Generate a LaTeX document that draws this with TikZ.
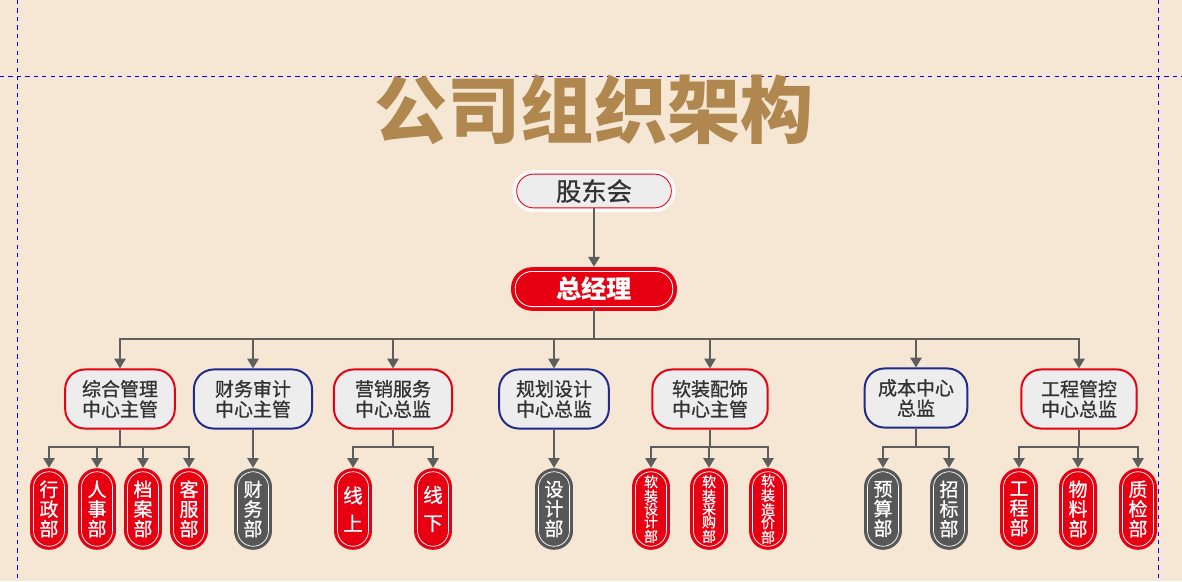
\documentclass[tikz,border=0pt]{standalone}
\usepackage{fontspec}
\usepackage{tikz}
\usetikzlibrary{arrows.meta}
\newfontfamily\cjk{Noto Sans CJK SC}[FakeBold=0.9]
\newfontfamily\cjktitel{Noto Sans CJK SC}
\definecolor{beige}{HTML}{F6E7D5}
\definecolor{gold}{HTML}{B0874F}
\definecolor{hong}{HTML}{E60012}
\definecolor{lan}{HTML}{1F2A8C}
\definecolor{hui}{HTML}{575757}
\definecolor{kasten}{HTML}{EDEDED}
\definecolor{schrift}{HTML}{333333}
\definecolor{liniefarbe}{HTML}{5E5E5E}
\tikzset{
  pfeil/.style={-{Triangle[length=7pt,width=8pt]},liniefarbe,line width=1.4pt},
  strich/.style={liniefarbe,line width=1.4pt},
  hilfs/.style={blue,line width=0.7pt,dash pattern=on 3pt off 3pt},
  titel/.style={gold,font=\cjktitel\bfseries\fontsize{52}{56}\selectfont},
  gdh/.style={fill=kasten,draw=hong,line width=0.6pt,rounded corners=12pt,minimum width=110pt,minimum height=24pt,
    preaction={draw=white!70!kasten,line width=6pt},text=schrift,font=\cjk\fontsize{18}{20}\selectfont},
  chef/.style={fill=hong,draw=white,line width=0.6pt,rounded corners=12pt,minimum width=112pt,minimum height=25pt,
    preaction={draw=hong,line width=6pt},text=white,font=\cjktitel\bfseries\fontsize{18}{20}\selectfont},
  zentrum/.style={fill=kasten,draw=#1,line width=1.4pt,rounded corners=14pt,minimum width=78pt,minimum height=42pt,
    align=center,text=schrift,inner sep=2pt,font=\cjk\fontsize{13.5}{14.5}\selectfont},
  zentrum/.default=hong,
  abt/.style={fill=#1,draw=white,line width=0.5pt,rounded corners=11pt,minimum width=22pt,minimum height=53pt,
    inner sep=0pt,align=center,text=white,preaction={draw=#1,line width=5pt},font=\cjk\fontsize{13.5}{14}\selectfont},
  abt/.default=hong,
  klein/.style={font=\cjk\fontsize{10}{9.2}\selectfont},
  zwei/.style={font=\cjk\fontsize{14}{20}\selectfont},
}
\begin{document}
\begin{tikzpicture}[x=0.025cm,y=-0.025cm]
  \fill[beige] (0,0) rectangle (1182,581);
  \useasboundingbox (0,0) rectangle (1182,581);
  \draw[hilfs] (17,0) -- (17,581);
  \draw[hilfs] (1158,0) -- (1158,581);
  \draw[hilfs] (0,76) -- (1182,76);

  \node[titel] (titel) at (594,110) {公司组织架构};
  \node[gdh] (gdh) at (594,191) {股东会};
  \node[chef] (zjl) at (594,289) {总经理};
  \draw[pfeil,shorten >=3pt] (gdh) -- (zjl);

  \node[zentrum] (m1) at (120,399) {综合管理\\中心主管};
  \node[zentrum=lan,minimum width=84pt] (m2) at (253,399) {财务审计\\中心主管};
  \node[zentrum,minimum width=84pt] (m3) at (393,399) {营销服务\\中心总监};
  \node[zentrum=lan] (m4) at (554,399) {规划设计\\中心总监};
  \node[zentrum,minimum width=82pt] (m5) at (710,399) {软装配饰\\中心主管};
  \node[zentrum=lan,minimum width=73pt] (m6) at (916,398) {成本中心\\总监};
  \node[zentrum,minimum width=82pt] (m7) at (1079,399) {工程管控\\中心总监};

  \coordinate (bus) at (594,339);
  \draw[strich] (zjl) -- (bus);
  \foreach \m in {m1,m2,m3,m4,m5,m6,m7}
    \draw[pfeil] (bus) -| (\m);

  \node[abt] (d11) at (49,509) {行\\政\\部};
  \node[abt] (d12) at (97,509) {人\\事\\部};
  \node[abt] (d13) at (143,509) {档\\案\\部};
  \node[abt] (d14) at (189,509) {客\\服\\部};
  \node[abt=hui] (d21) at (253,509) {财\\务\\部};
  \node[abt,zwei] (d31) at (353,509) {线\\上};
  \node[abt,zwei] (d32) at (433,509) {线\\下};
  \node[abt=hui] (d41) at (554,509) {设\\计\\部};
  \node[abt,klein] (d51) at (651,509) {软\\装\\设\\计\\部};
  \node[abt,klein] (d52) at (709,509) {软\\装\\采\\购\\部};
  \node[abt,klein] (d53) at (768,509) {软\\装\\造\\价\\部};
  \node[abt=hui] (d61) at (883,509) {预\\算\\部};
  \node[abt=hui] (d62) at (949,509) {招\\标\\部};
  \node[abt] (d71) at (1019,509) {工\\程\\部};
  \node[abt] (d72) at (1078,509) {物\\料\\部};
  \node[abt] (d73) at (1138,509) {质\\检\\部};

  \coordinate (b1) at (120,447);
  \coordinate (b2) at (253,447);
  \coordinate (b3) at (393,447);
  \coordinate (b4) at (554,447);
  \coordinate (b5) at (710,447);
  \coordinate (b6) at (916,447);
  \coordinate (b7) at (1079,447);
  \foreach \m/\b in {m1/b1,m2/b2,m3/b3,m4/b4,m5/b5,m6/b6,m7/b7}
    \draw[strich] (\m) -- (\b);
  \foreach \b/\d in {b1/d11,b1/d12,b1/d13,b1/d14,b2/d21,b3/d31,b3/d32,b4/d41,
                     b5/d51,b5/d52,b5/d53,b6/d61,b6/d62,b7/d71,b7/d72,b7/d73}
    \draw[pfeil,shorten >=2.5pt] (\b) -| (\d);
\end{tikzpicture}
\end{document}
